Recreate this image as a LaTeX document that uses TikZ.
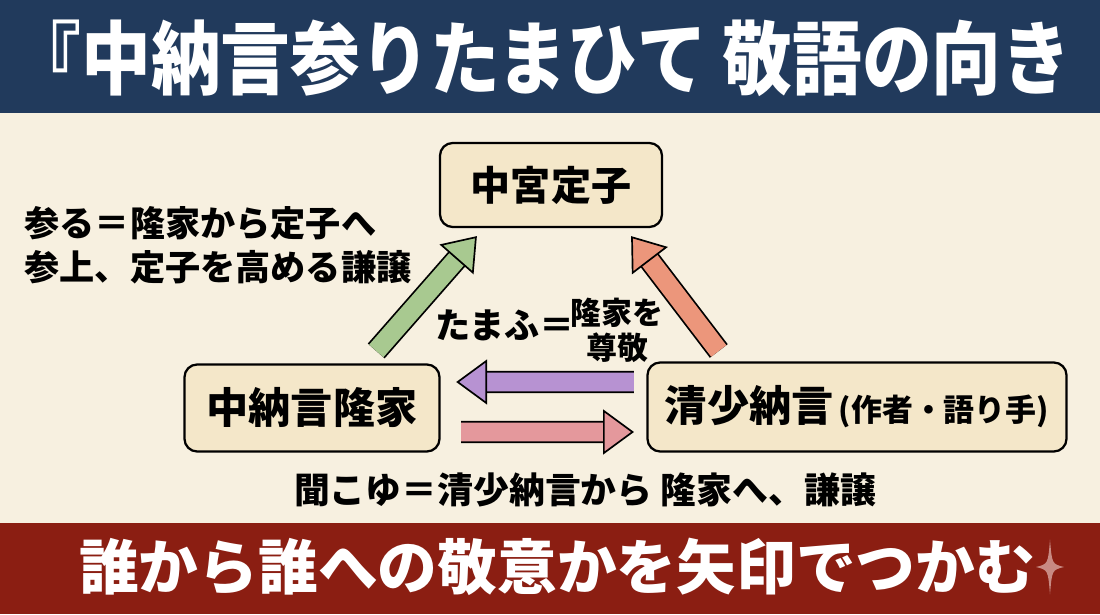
\documentclass[tikz,border=0pt]{standalone}
\usepackage{fontspec}
\usepackage{graphicx}
\usepackage{xcolor}
\setmainfont{Noto Sans CJK JP}
\usetikzlibrary{arrows.meta,positioning,calc}

\definecolor{navy}{HTML}{213A5C}
\definecolor{banred}{HTML}{8B1E12}
\definecolor{paper}{HTML}{F7F0E0}
\definecolor{boxfill}{HTML}{F4E7C9}
\definecolor{gArrow}{HTML}{A8C990}
\definecolor{oArrow}{HTML}{EC967B}
\definecolor{pArrow}{HTML}{B792D2}
\definecolor{rArrow}{HTML}{E4989C}
\definecolor{spark}{HTML}{C88A83}

\begin{document}
\begin{tikzpicture}[
  fat/.style={draw=#1, line width=13.5pt,
    -{Triangle[length=22pt,width=32pt,line width=1.2pt,color=black,fill=#1]},
    preaction={draw=black, line width=16pt, -, shorten >=12pt}}]
  \tikzstyle{actor}=[rectangle, rounded corners=9pt, draw, line width=1.6pt, fill=boxfill, font=\bfseries]
  \tikzstyle{note}=[inner sep=0pt, font=\bfseries]

  % background and banners
  \useasboundingbox (0,0) rectangle (27.5,15.35);
  \fill[paper] (0,0) rectangle (27.5,15.35);
  \fill[navy] (0,12.525) rectangle (27.5,15.35);
  \fill[banred] (0,0) rectangle (27.5,2.275);

  \node[note, text=white, font=\fontsize{49.6}{55}\selectfont\bfseries] (title) at (13.54,13.9)
    {\scalebox{1}[1.15]{『中納言参りたまひて 敬語の向き}};
  \node[note, text=white, font=\fontsize{42.5}{48}\selectfont\bfseries] (motto) at (13.93,1.175)
    {誰から誰への敬意かを矢印でつかむ};
  \fill[spark] (26.25,1.86) .. controls (26.3,1.25) .. (26.6,1.175)
    .. controls (26.3,1.1) .. (26.25,0.49) .. controls (26.2,1.1) .. (25.9,1.175)
    .. controls (26.2,1.25) .. cycle;

  % people
  \node[actor, minimum width=5.55cm, minimum height=2.1cm, font=\fontsize{28.5}{32}\selectfont\bfseries] (teishi) at (13.775,10.725) {中宮定子};
  \node[actor, minimum width=6.375cm, minimum height=2.175cm, font=\fontsize{30}{34}\selectfont\bfseries] (takaie) at (7.8,5.15) {中納言隆家};
  \node[actor, minimum width=10.475cm, minimum height=2.225cm, font=\fontsize{30}{34}\selectfont\bfseries] (sei) at (21.425,5.175)
    {清少納言{\fontsize{22}{25}\selectfont\,(作者・語り手)}};

  % explanations
  \node[note, align=left, font=\fontsize{25}{31}\selectfont\bfseries] (mairu) at (5.45,9.225)
    {参る＝隆家から定子へ\\参上、定子を高める謙譲};
  \node[note, font=\fontsize{25}{28}\selectfont\bfseries] (tamau) at (12.625,7.225) {たまふ＝};
  \node[note, align=center, font=\fontsize{22}{25}\selectfont\bfseries] (tamau2) at (15.425,7.1) {隆家を\\尊敬};
  \node[note, font=\fontsize{25.5}{29}\selectfont\bfseries] (kikoyu) at (14.625,3.1)
    {聞こゆ＝清少納言から 隆家へ、謙譲};

  % arrows
  \draw[fat=gArrow] ($(takaie.north east)+(-1.61,0.31)$) -- ($(teishi.south west)+(0.95,-0.2)$);
  \draw[fat=oArrow] ($(sei.north west)+(1.81,0.26)$) -- ($(teishi.south east)+(-0.8,-0.2)$);
  \draw[fat=pArrow] ($(sei.west)+(-0.31,0.625)$) -- ($(takaie.east)+(0.39,0.65)$);
  \draw[fat=rArrow] ($(takaie.east)+(0.51,-0.6)$) -- ($(sei.west)+(-0.31,-0.625)$);
\end{tikzpicture}
\end{document}
